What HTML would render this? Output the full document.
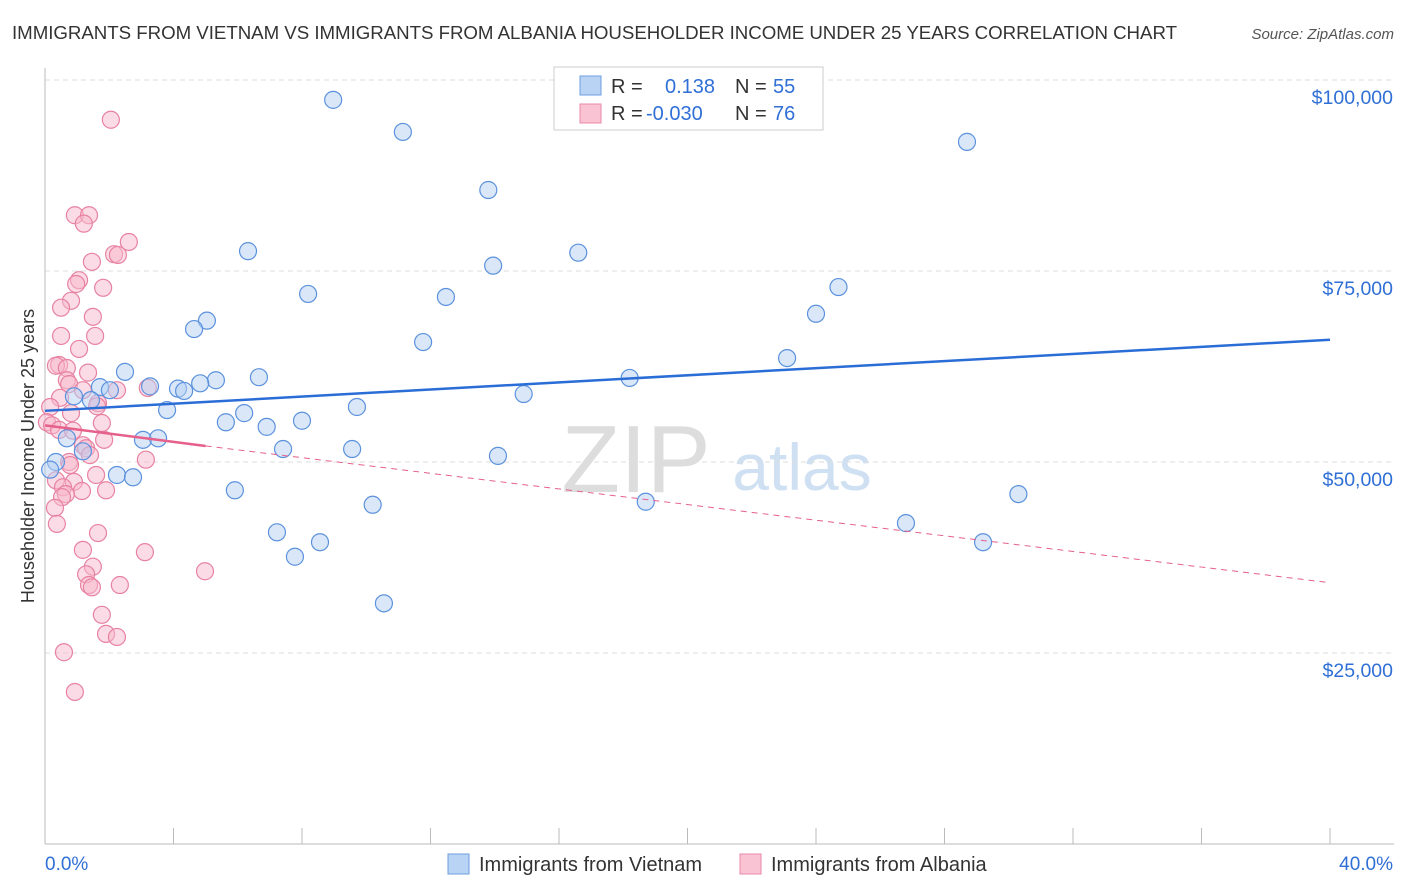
<!DOCTYPE html>
<html><head><meta charset="utf-8"><style>
body{margin:0;background:#fff;font-family:"Liberation Sans",sans-serif;}
#wrap{position:relative;width:1406px;height:892px;overflow:hidden}
svg text{font-family:"Liberation Sans",sans-serif}
</style></head><body>
<div id="wrap">
<svg id="c" width="1406" height="892">
<text x="12" y="39" font-size="18.7" fill="#333" textLength="1165">IMMIGRANTS FROM VIETNAM VS IMMIGRANTS FROM ALBANIA HOUSEHOLDER INCOME UNDER 25 YEARS CORRELATION CHART</text>
<text x="1394" y="39" font-size="15" fill="#555" font-style="italic" text-anchor="end">Source: ZipAtlas.com</text>
<text x="636" y="492" font-size="96" fill="#ddd" font-family="Liberation Serif" text-anchor="middle">ZIP</text>
<text x="802" y="490" font-size="66" fill="#cfe0f3" text-anchor="middle">atlas</text>
<text transform="translate(34,456) rotate(-90)" font-size="18" fill="#333" text-anchor="middle">Householder Income Under 25 years</text>
<g id="grid"></g><g id="marks"></g>
<rect x="554" y="67" width="269" height="63" fill="#fff" stroke="#ccc"/>
<rect x="580" y="76" width="21" height="19" fill="#b8d3f3" stroke="#6d9fe0"/>
<rect x="580" y="104" width="21" height="19" fill="#f9c3d3" stroke="#ea89a8"/>
<text x="611" y="93" font-size="20" fill="#333">R = <tspan x="665" fill="#2f6fd6">0.138</tspan><tspan x="735" fill="#333">N = </tspan><tspan x="773" fill="#2f6fd6">55</tspan></text>
<text x="611" y="120" font-size="20" fill="#333">R = <tspan x="646" fill="#2f6fd6">-0.030</tspan><tspan x="735" fill="#333">N = </tspan><tspan x="773" fill="#2f6fd6">76</tspan></text>
<rect x="448" y="854" width="21" height="20" fill="#b8d3f3" stroke="#6d9fe0"/>
<text x="479" y="871" font-size="20" fill="#333">Immigrants from Vietnam</text>
<rect x="740" y="854" width="21" height="20" fill="#f9c3d3" stroke="#ea89a8"/>
<text x="771" y="871" font-size="20" fill="#333">Immigrants from Albania</text>
<text x="45" y="870" font-size="19" fill="#2f6fd6">0.0%</text>
<text x="1393" y="870" font-size="19" fill="#2f6fd6" text-anchor="end">40.0%</text>
</svg></div>
<script>
const blueX=[8.97,11.14,28.7,13.8,6.32,16.6,13.95,8.19,12.48,24.7,24.0,5.04,4.64,11.77,23.1,2.49,6.66,18.2,5.32,1.71,3.27,2.02,4.14,4.83,4.33,0.9,14.9,1.43,3.8,9.71,6.2,5.63,8.0,6.9,0.68,3.05,3.52,7.41,9.56,1.18,14.1,0.34,0.16,2.24,2.74,5.91,30.3,18.7,10.2,26.8,7.22,29.2,8.56,7.78,10.55];
const blueY=[97.4,93.2,91.9,85.6,77.6,77.4,75.7,72.0,71.6,72.9,69.4,68.5,67.4,65.7,63.6,61.8,61.1,61.0,60.7,59.8,59.9,59.4,59.6,60.3,59.3,58.6,58.9,58.1,56.8,57.2,56.4,55.2,55.4,54.6,53.1,52.9,53.1,51.7,51.7,51.4,50.8,50.0,49.0,48.3,48.0,46.3,45.8,44.8,44.4,42.0,40.8,39.5,39.5,37.6,31.5];
const pinkX=[2.05,0.93,1.37,1.21,2.61,2.15,2.27,1.46,1.06,0.97,1.81,0.81,0.5,1.49,0.5,1.56,1.06,0.44,0.34,0.68,1.34,0.68,0.75,3.2,2.24,1.18,0.47,1.65,1.62,0.16,0.81,1.77,0.06,0.22,0.44,0.87,1.84,1.18,1.28,3.14,0.75,0.78,1.4,1.59,0.34,0.9,0.56,1.15,1.9,0.65,0.53,0.31,0.37,1.65,1.18,3.11,4.98,1.49,1.28,1.37,1.46,2.33,1.77,1.9,2.24,0.59,0.93];
const pinkY=[94.8,82.3,82.3,81.2,78.8,77.2,77.1,76.2,73.8,73.3,72.8,71.1,70.2,69.0,66.5,66.5,64.8,62.7,62.6,62.3,61.7,60.7,60.2,59.7,59.4,59.4,58.4,57.7,57.3,57.2,56.4,55.1,55.2,54.8,54.2,54.1,52.9,52.2,51.8,50.3,50.0,49.6,50.9,48.3,47.6,47.4,46.7,46.2,46.3,45.8,45.4,44.0,41.9,40.7,38.5,38.2,35.7,36.3,35.3,33.9,33.6,33.9,30.0,27.5,27.1,25.1,19.9];
const blueTrend=[0,56.7,40,66.0];
const pinkTrend=[0,54.8,5,52.1,40,34.2];
const yTicks=[25000,50000,75000,100000];
const yTickLabels=["$25,000","$50,000","$75,000","$100,000"];
const xTicks=[0,4,8,12,16,20,24,28,32,36,40];
const sx=v=>45+v/40*1285;
const sy=v=>844-v/100*764;
const NS="http://www.w3.org/2000/svg";
const g=document.getElementById('grid'),m=document.getElementById('marks');
function mk(t,a,p){const e=document.createElementNS(NS,t);for(const k in a)e.setAttribute(k,a[k]);p.appendChild(e);return e;}
yTicks.forEach((v,i)=>{
 const l=mk('line',{x1:45,x2:1394,y1:sy(v/1000),y2:sy(v/1000),stroke:'#ddd','stroke-dasharray':'5,4'},g);
 
 
 const t=mk('text',{x:1393,y:sy(v/1000)+24,'font-size':19.5,fill:'#2f6fd6','text-anchor':'end'},g);
 t.textContent=yTickLabels[i];
 
 
});
const ax=mk('line',{x1:45,x2:45,y1:68,y2:844,stroke:'#bbb'},g);


const bx=mk('line',{x1:45,x2:1394,y1:844,y2:844,stroke:'#bbb'},g);


xTicks.forEach(v=>{
 const l=mk('line',{x1:sx(v),x2:sx(v),y1:828,y2:844,stroke:'#bbb'},g);
 
 
});
function pts(X,Y,fill,stroke,name){X.forEach((x,i)=>{
 const c=mk('circle',{cx:sx(x),cy:sy(Y[i]),r:8.5,fill:fill,'fill-opacity':0.5,stroke:stroke,'stroke-width':1.2},m);
 
 
});}
pts(pinkX,pinkY,'#f7b7cb','#e882a3','albania-point');
pts(blueX,blueY,'#b3d0f3','#5c92dd','vietnam-point');
const bl=mk('line',{x1:sx(blueTrend[0]),y1:sy(blueTrend[1]),x2:sx(blueTrend[2]),y2:sy(blueTrend[3]),stroke:'#2a6dd6','stroke-width':2.5},m);


const pl=mk('line',{x1:sx(pinkTrend[0]),y1:sy(pinkTrend[1]),x2:sx(pinkTrend[2]),y2:sy(pinkTrend[3]),stroke:'#e5608a','stroke-width':2.5},m);


const pd=mk('line',{x1:sx(pinkTrend[2]),y1:sy(pinkTrend[3]),x2:sx(pinkTrend[4]),y2:sy(pinkTrend[5]),stroke:'#e5608a','stroke-width':1,'stroke-dasharray':'6,5'},m);


</script></body></html>
